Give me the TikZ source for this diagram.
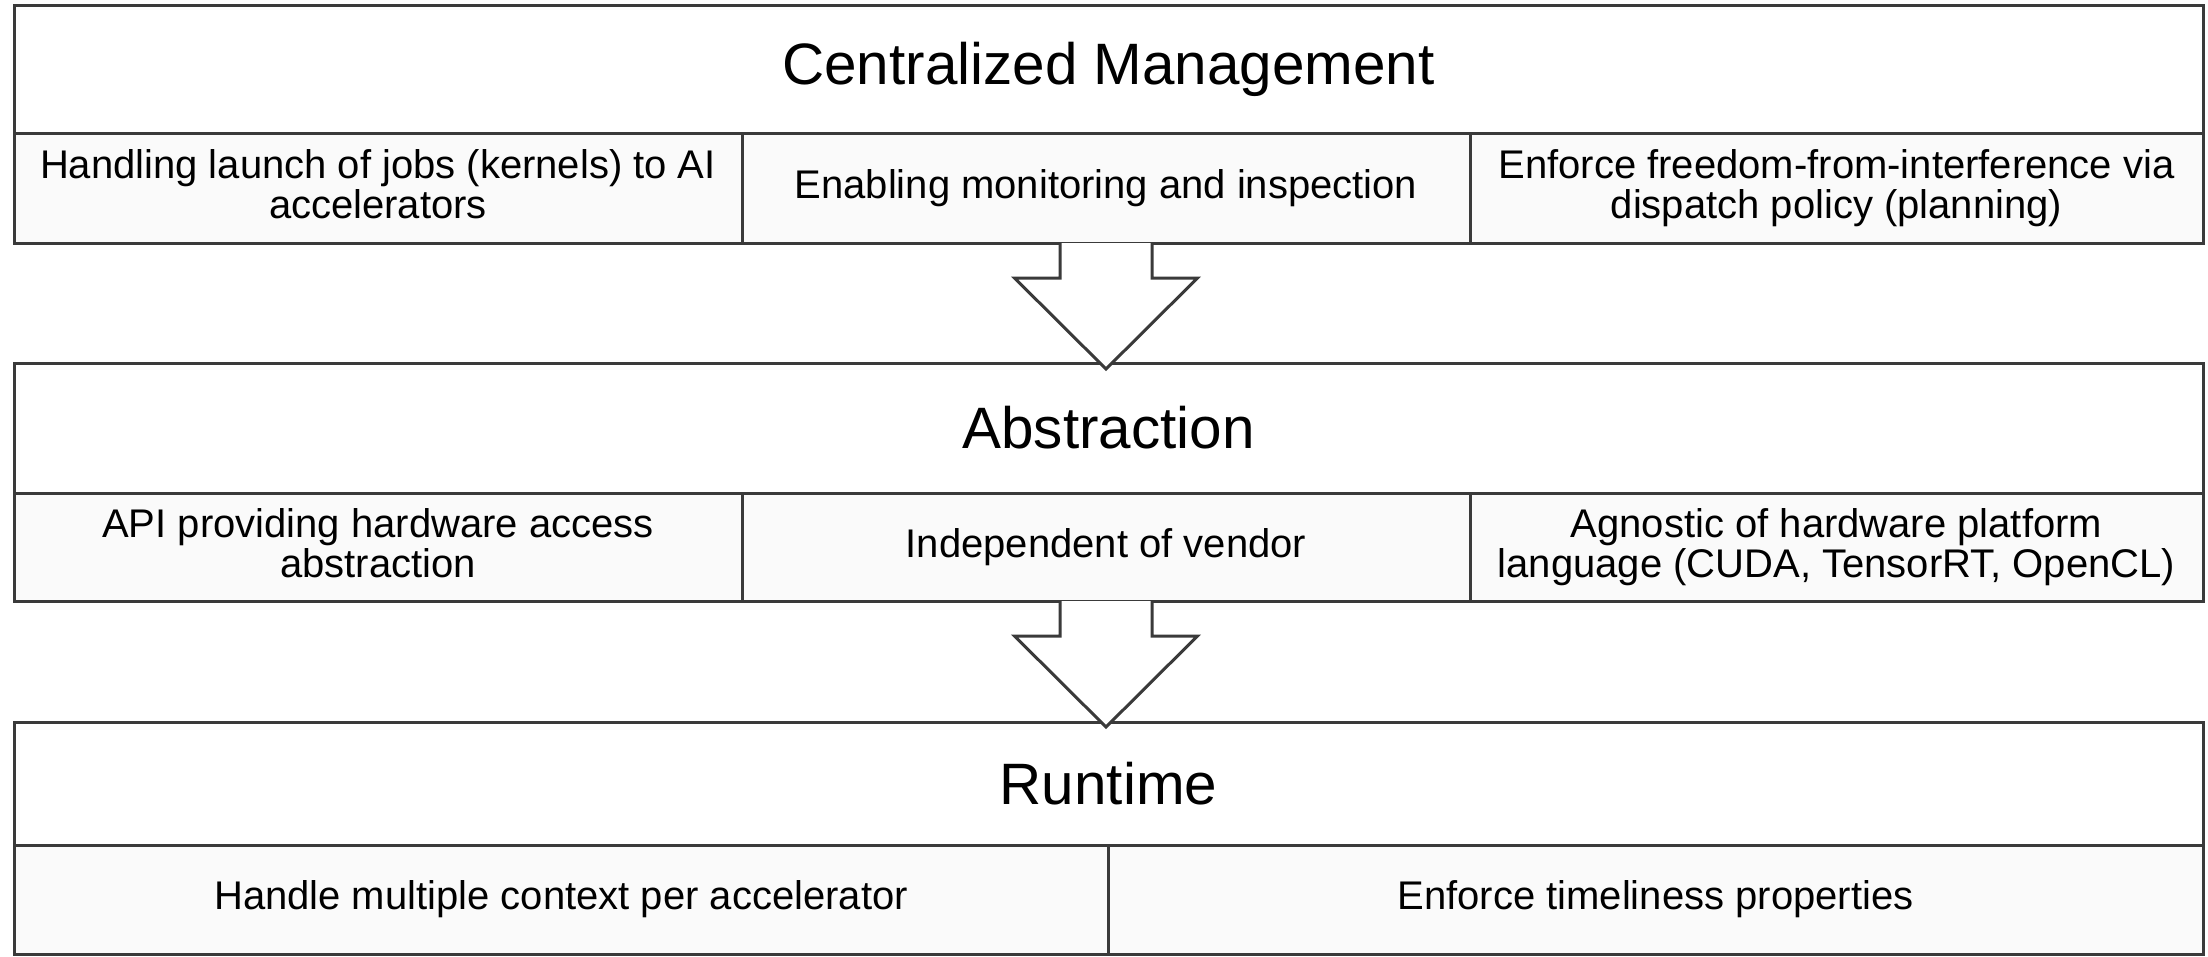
\documentclass[tikz,border=0pt]{standalone}
\usepackage{fontspec}
\setmainfont{Liberation Sans}
\usetikzlibrary{calc}
\definecolor{edge}{HTML}{3A3A3A}
\definecolor{cellfill}{HTML}{FAFAFA}
\tikzset{
  boxbase/.style={draw=edge, line width=0.75pt, rectangle, inner sep=0pt, outer sep=0pt, anchor=north west, align=center},
  titlebox/.style={boxbase, fill=white, font=\fontsize{14.6}{17}\selectfont},
  cellbox/.style={boxbase, fill=cellfill, font=\fontsize{10}{10}\selectfont},
  twoline/.style={text depth=2pt},
  bigarrow/.style={draw=edge, line width=0.75pt, fill=white, line join=miter}
}
\begin{document}
\begin{tikzpicture}[x=0.25pt,y=-0.25pt]
\useasboundingbox (0,0) rectangle (2208,956);
% Box 1
\node[titlebox, minimum width=547.25pt, minimum height=32pt] (t1) at (14,5) {Centralized Management};
\node[cellbox, twoline, minimum width=182pt, minimum height=27.5pt] (c11) at (14,133) {Handling launch of jobs (kernels) to AI\\accelerators};
\node[cellbox, minimum width=182pt, minimum height=27.5pt] (c12) at (742,133) {Enabling monitoring and inspection};
\node[cellbox, twoline, minimum width=183.25pt, minimum height=27.5pt] (c13) at (1470,133) {Enforce freedom-from-interference via\\dispatch policy (planning)};
% Box 2
\node[titlebox, minimum width=547.25pt, minimum height=32.5pt] (t2) at (14,363) {Abstraction};
\node[cellbox, twoline, minimum width=182pt, minimum height=27pt] (c21) at (14,493) {API providing hardware access\\abstraction};
\node[cellbox, minimum width=182pt, minimum height=27pt] (c22) at (742,493) {Independent of vendor};
\node[cellbox, twoline, minimum width=183.25pt, minimum height=27pt] (c23) at (1470,493) {Agnostic of hardware platform\\language (CUDA, TensorRT, OpenCL)};
% Box 3
\node[titlebox, minimum width=547.25pt, minimum height=30.75pt] (t3) at (14,722) {Runtime};
\node[cellbox, minimum width=273.5pt, minimum height=27.25pt] (c31) at (14,845) {Handle multiple context per accelerator};
\node[cellbox, minimum width=273.75pt, minimum height=27.25pt] (c32) at (1108,845) {Enforce timeliness properties};
% Arrows
\coordinate (a1s) at ($(c11.south east)!0.5!(c13.south west)$);
\draw[bigarrow] ($(a1s)+(-46,0)$) -- ($(a1s)+(-46,35)$) -- ($(a1s)+(-91.5,35)$) -- ($(a1s)+(0,126)$) -- ($(a1s)+(91.5,35)$) -- ($(a1s)+(46,35)$) -- ($(a1s)+(46,0)$);
\coordinate (a2s) at ($(c21.south east)!0.5!(c23.south west)$);
\draw[bigarrow] ($(a2s)+(-46,0)$) -- ($(a2s)+(-46,35)$) -- ($(a2s)+(-91.5,35)$) -- ($(a2s)+(0,126)$) -- ($(a2s)+(91.5,35)$) -- ($(a2s)+(46,35)$) -- ($(a2s)+(46,0)$);
\end{tikzpicture}
\end{document}
